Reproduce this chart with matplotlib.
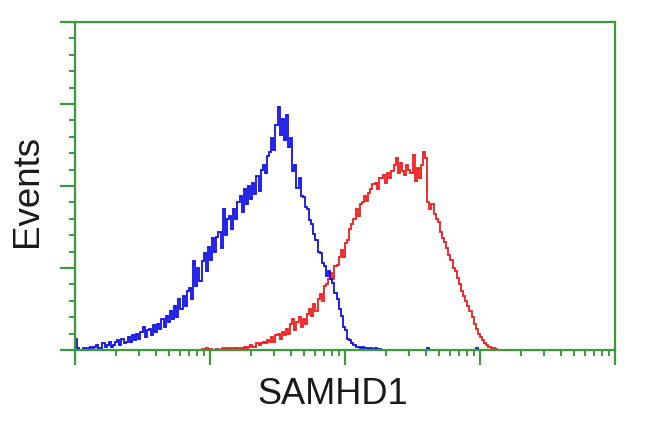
import numpy as np
import matplotlib
matplotlib.use("Agg")
import matplotlib.pyplot as plt
from matplotlib.ticker import LogLocator, MultipleLocator, NullFormatter

# ---- data (counts per channel, 256 log channels over 4 decades) ----
n_channels = 256
x_min, x_max = 1.0, 1e4
y_max = 200

blue_start = 0
blue_counts = [
    7, 1, 0, 0, 1, 0, 1, 2, 1, 2,
    3, 1, 1, 4, 2, 3, 5, 2, 3, 5,
    6, 3, 7, 4, 5, 8, 5, 9, 6, 10,
    7, 11, 14, 8, 12, 13, 9, 15, 11, 16,
    13, 19, 14, 21, 17, 24, 19, 27, 20, 31,
    25, 33, 27, 36, 38, 31, 54, 39, 50, 42,
    54, 59, 48, 63, 55, 68, 60, 69, 72, 62,
    86, 70, 80, 82, 74, 86, 80, 90, 94, 84,
    98, 89, 100, 92, 102, 95, 106, 97, 110, 113,
    108, 118, 121, 129, 122, 137, 148, 131, 141, 128,
    143, 124, 129, 109, 113, 99, 105, 94, 93, 87,
    86, 79, 77, 71, 67, 60, 59, 53, 51, 45,
    48, 43, 41, 35, 31, 25, 21, 14, 12, 7,
    6, 4, 3, 2, 2, 1, 2, 1, 1, 0.5,
    1, 0.5, 1, 0.5, 0.5, 0,
]
blue_specks = {167: 1, 190: 1}

red_start = 60
red_counts = [
    0.6, 0.6, 1, 0.6, 0.6, 0, 0, 0.5, 0, 0.6,
    1, 0.6, 1, 0.6, 1, 1, 0.6, 1, 1, 0.6,
    2, 1, 2, 3, 2, 2, 4, 3, 4, 5,
    4, 6, 5, 8, 5, 9, 10, 7, 11, 9,
    13, 10, 16, 19, 12, 17, 20, 14, 19, 16,
    22, 25, 21, 28, 24, 31, 34, 30, 39, 40,
    43, 47, 43, 51, 52, 57, 61, 57, 65, 67,
    74, 77, 80, 86, 82, 89, 90, 94, 91, 96,
    98, 101, 102, 98, 105, 105, 107, 102, 108, 105,
    109, 113, 117, 108, 114, 109, 107, 113, 110, 108,
    119, 103, 111, 105, 113, 121, 117, 90, 86, 89,
    83, 80, 78, 72, 68, 66, 62, 58, 55, 50,
    48, 44, 40, 36, 33, 30, 27, 24, 20, 16,
    13, 10, 8, 6, 4, 3, 2, 1.5, 1, 0.6,
    0,
]

x_label = "SAMHD1"
y_label = "Events"

# ---- build full histograms ----
edges = np.logspace(np.log10(x_min), np.log10(x_max), n_channels + 1)
blue = np.zeros(n_channels)
blue[blue_start:blue_start + len(blue_counts)] = blue_counts
for k, v in blue_specks.items():
    blue[k] = v
red = np.zeros(n_channels)
red[red_start:red_start + len(red_counts)] = red_counts

green = "#3c9a3c"

fig = plt.figure(figsize=(6.5, 4.32), dpi=100)
ax = fig.add_axes([75 / 650, 1 - 350 / 432, (615 - 75) / 650, (350 - 22) / 432])

ax.stairs(red, edges, color="#ee1c1c", linewidth=1.3)
ax.stairs(blue, edges, color="#1010e6", linewidth=1.3)

ax.set_xscale("log")
ax.set_xlim(x_min, x_max)
ax.set_ylim(0, y_max)

ax.xaxis.set_major_locator(LogLocator(base=10, numticks=10))
ax.xaxis.set_minor_locator(LogLocator(base=10, subs=np.arange(2, 10), numticks=100))
ax.xaxis.set_major_formatter(NullFormatter())
ax.xaxis.set_minor_formatter(NullFormatter())
ax.yaxis.set_major_locator(MultipleLocator(50))
ax.yaxis.set_minor_locator(MultipleLocator(10))
ax.yaxis.set_major_formatter(NullFormatter())

for s in ax.spines.values():
    s.set_color(green)
    s.set_linewidth(1.6)

ax.tick_params(axis="both", which="major", direction="out", color=green,
               width=1.6, length=11)
ax.tick_params(axis="both", which="minor", direction="out", color=green,
               width=1.4, length=4)

fig.text(27 / 650, 1 - 191 / 432, y_label, rotation=90, ha="center", va="center",
         fontsize=26.5, family="Liberation Sans", color="#1a1a1a")
fig.text(333 / 650, 1 - 394 / 432, x_label, ha="center", va="center",
         fontsize=26, family="Liberation Sans", color="#1a1a1a")

fig.savefig("out.png", dpi=100)
